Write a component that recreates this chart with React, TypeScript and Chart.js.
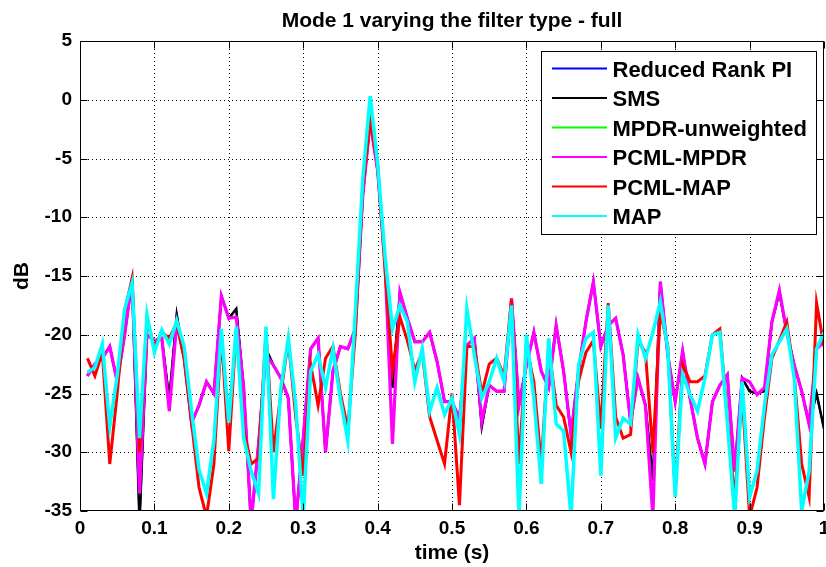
import React, { useEffect, useRef } from "react";
import { Chart, registerables } from "chart.js";

Chart.register(...registerables);

const TITLE = "Mode 1 varying the filter type - full";
const X_LABEL = "time (s)";
const Y_LABEL = "dB";

const X_TICKS = [0, 0.1, 0.2, 0.3, 0.4, 0.5, 0.6, 0.7, 0.8, 0.9, 1];
const X_TICK_LABELS = ["0", "0.1", "0.2", "0.3", "0.4", "0.5", "0.6", "0.7", "0.8", "0.9", "1"];
const Y_TICKS = [-35, -30, -25, -20, -15, -10, -5, 0, 5];
const Y_TICK_LABELS = ["-35", "-30", "-25", "-20", "-15", "-10", "-5", "0", "5"];

const TIME_S = [
  0.01, 0.02, 0.03, 0.04, 0.05, 0.06, 0.07, 0.08, 0.09, 0.1,
  0.11, 0.12, 0.13, 0.14, 0.15, 0.16, 0.17, 0.18, 0.19, 0.2,
  0.21, 0.22, 0.23, 0.24, 0.25, 0.26, 0.27, 0.28, 0.29, 0.3,
  0.31, 0.32, 0.33, 0.34, 0.35, 0.36, 0.37, 0.38, 0.39, 0.4,
  0.41, 0.42, 0.43, 0.44, 0.45, 0.46, 0.47, 0.48, 0.49, 0.5,
  0.51, 0.52, 0.53, 0.54, 0.55, 0.56, 0.57, 0.58, 0.59, 0.6,
  0.61, 0.62, 0.63, 0.64, 0.65, 0.66, 0.67, 0.68, 0.69, 0.7,
  0.71, 0.72, 0.73, 0.74, 0.75, 0.76, 0.77, 0.78, 0.79, 0.8,
  0.81, 0.82, 0.83, 0.84, 0.85, 0.86, 0.87, 0.88, 0.89, 0.9,
  0.91, 0.92, 0.93, 0.94, 0.95, 0.96, 0.97, 0.98, 0.99, 1.0,
];

const SMS_DB = [
  -23.5, -22.5, -22.0, -21.0, -24.0, -20.0, -15.3, -36.0, -20.0, -20.5,
  -20.3, -25.5, -18.3, -22.0, -27.5, -26.0, -24.0, -25.0, -16.7, -18.6,
  -17.8, -24.5, -36.0, -29.3, -21.2, -22.6, -23.7, -25.4, -36.0, -28.8,
  -21.2, -20.3, -30.0, -23.1, -21.0, -21.2, -19.5, -8.2, -1.8, -6.0,
  -13.9, -24.5, -16.4, -18.6, -20.6, -20.6, -19.8, -22.3, -25.7, -25.7,
  -27.1, -20.9, -20.3, -27.8, -24.3, -24.8, -24.8, -16.9, -26.0, -22.6,
  -19.8, -23.1, -24.5, -19.2, -23.1, -28.5, -23.1, -18.9, -15.5, -21.0,
  -19.2, -18.6, -21.7, -27.4, -23.7, -26.0, -32.4, -15.5, -21.7, -25.7,
  -21.4, -25.4, -28.8, -31.0, -25.7, -24.3, -23.4, -31.6, -23.7, -24.8,
  -25.0, -24.8, -18.9, -16.4, -19.8, -22.6, -24.8, -27.6, -25.0, -28.0,
];

const PCML_MPDR_DB = [
  -23.5, -22.5, -22.0, -21.0, -24.0, -20.0, -15.3, -33.5, -20.0, -20.5,
  -20.3, -26.5, -19.0, -22.0, -27.5, -26.0, -24.0, -25.0, -16.7, -18.6,
  -18.5, -24.5, -36.0, -29.3, -21.7, -22.6, -23.7, -25.4, -36.0, -28.8,
  -21.2, -20.3, -30.0, -23.1, -21.0, -21.2, -19.5, -8.2, -1.8, -6.0,
  -13.9, -29.3, -16.4, -18.6, -20.6, -20.6, -19.8, -22.3, -25.7, -25.7,
  -27.1, -20.9, -20.3, -27.4, -24.3, -24.8, -24.8, -16.9, -26.0, -22.6,
  -19.8, -23.1, -24.5, -19.2, -23.1, -28.5, -23.1, -18.9, -15.5, -21.0,
  -19.2, -18.6, -21.7, -27.4, -23.7, -26.0, -35.5, -15.5, -21.7, -25.7,
  -21.4, -25.4, -28.8, -31.0, -25.7, -24.3, -23.4, -31.6, -23.7, -24.0,
  -25.1, -24.5, -18.9, -16.2, -19.8, -22.6, -24.8, -27.6, -21.2, -20.6,
];

const REDUCED_RANK_PI_DB = SMS_DB;
const MPDR_UNWEIGHTED_DB = PCML_MPDR_DB;

const PCML_MAP_DB = [
  -22.0, -23.5, -21.5, -31.0, -25.0, -18.0, -15.2, -30.0, -18.8, -21.0,
  -19.8, -20.3, -19.0, -22.0, -27.5, -33.0, -35.5, -31.0, -20.0, -29.9,
  -19.5, -28.0, -31.0, -30.5, -19.8, -30.0, -25.0, -20.5, -27.0, -32.0,
  -22.5, -26.0, -22.0, -21.0, -25.0, -28.0, -20.0, -7.5, -1.8, -5.5,
  -14.5, -23.0, -18.5, -20.5, -23.0, -21.5, -27.0, -29.0, -31.0, -25.0,
  -34.5, -21.0, -21.0, -25.0, -22.5, -22.0, -23.5, -17.0, -31.0, -21.0,
  -24.0, -31.0, -21.0, -26.0, -27.0, -30.0, -24.0, -21.5, -20.5, -28.0,
  -17.3, -27.0, -28.8, -28.5, -20.5, -21.5, -30.0, -18.0, -21.0, -33.5,
  -22.5, -24.0, -24.0, -23.5, -20.0, -19.5, -27.0, -34.0, -25.0, -35.5,
  -33.0, -27.0, -22.0, -20.5, -18.9, -23.5, -31.0, -33.8, -17.3, -21.0,
];

const MAP_DB = [
  -23.2, -22.8, -20.8, -27.8, -23.5, -17.8, -15.6, -28.8, -18.3, -21.5,
  -19.6, -20.8, -18.8, -21.0, -26.5, -31.5, -33.5, -29.0, -19.5, -27.5,
  -19.3, -28.8, -31.6, -33.5, -19.3, -34.0, -24.5, -20.3, -26.0, -35.5,
  -23.1, -21.7, -24.5, -21.2, -25.5, -29.0, -18.1, -6.8, 0.3, -5.4,
  -13.3, -19.5, -17.5, -18.9, -24.0, -21.2, -26.5, -24.5, -26.8, -25.4,
  -28.5, -17.8, -21.7, -25.4, -24.0, -22.0, -24.0, -17.5, -35.5, -20.0,
  -25.4, -32.7, -20.3, -27.6, -28.2, -35.5, -22.6, -20.3, -19.8, -32.0,
  -17.5, -28.8, -27.1, -27.6, -20.0, -22.0, -19.8, -17.2, -21.2, -33.8,
  -23.4, -25.1, -26.5, -23.7, -20.0, -19.8, -27.4, -35.5, -24.0, -33.8,
  -31.6, -26.0, -21.7, -20.6, -19.5, -23.7, -35.0, -31.6, -21.2, -19.8,
];

const SERIES = [
  { name: "Reduced Rank PI", color: "#0000ff", width: 2, values: REDUCED_RANK_PI_DB, order: 5 },
  { name: "SMS", color: "#000000", width: 2.5, values: SMS_DB, order: 4 },
  { name: "MPDR-unweighted", color: "#00ff00", width: 2, values: MPDR_UNWEIGHTED_DB, order: 3 },
  { name: "PCML-MPDR", color: "#ff00ff", width: 3.2, values: PCML_MPDR_DB, order: 2 },
  { name: "PCML-MAP", color: "#ff0000", width: 3, values: PCML_MAP_DB, order: 1 },
  { name: "MAP", color: "#00ffff", width: 3.5, values: MAP_DB, order: 0 },
];

const FONT_FAMILY = '"Liberation Sans", Arial, Helvetica, sans-serif';

const matlabPlugin = {
  id: "matlabFrame",
  beforeDraw(chart: any) {
    const ctx = chart.ctx;
    ctx.save();
    ctx.fillStyle = "#ffffff";
    ctx.fillRect(0, 0, chart.width, chart.height);
    ctx.restore();
  },
  beforeDatasetsDraw(chart: any) {
    const { ctx, chartArea } = chart;
    const { left, right, top, bottom } = chartArea;
    const xs = chart.scales.x;
    const ys = chart.scales.y;
    ctx.save();
    ctx.strokeStyle = "#000000";
    ctx.lineWidth = 1;
    ctx.setLineDash([1, 3]);
    X_TICKS.forEach((v) => {
      const px = Math.round(xs.getPixelForValue(v)) + 0.5;
      if (px <= left + 1 || px >= right - 1) return;
      ctx.beginPath();
      ctx.moveTo(px, top);
      ctx.lineTo(px, bottom);
      ctx.stroke();
    });
    Y_TICKS.forEach((v) => {
      const py = Math.round(ys.getPixelForValue(v)) + 0.5;
      if (py <= top + 1 || py >= bottom - 1) return;
      ctx.beginPath();
      ctx.moveTo(left, py);
      ctx.lineTo(right, py);
      ctx.stroke();
    });
    ctx.restore();
  },
  afterDatasetsDraw(chart: any) {
    const { ctx, chartArea } = chart;
    const { left, right, top, bottom } = chartArea;
    const xs = chart.scales.x;
    const ys = chart.scales.y;
    const L = Math.round(left) + 0.5;
    const R = Math.round(right) - 0.5;
    const T = Math.round(top) + 0.5;
    const B = Math.round(bottom) - 0.5;
    const tick = 7;
    ctx.save();
    ctx.strokeStyle = "#000000";
    ctx.lineWidth = 1;
    ctx.setLineDash([]);
    ctx.strokeRect(L, T, R - L, B - T);
    ctx.beginPath();
    X_TICKS.forEach((v) => {
      const px = Math.round(xs.getPixelForValue(v)) + 0.5;
      ctx.moveTo(px, B);
      ctx.lineTo(px, B - tick);
      ctx.moveTo(px, T);
      ctx.lineTo(px, T + tick);
    });
    Y_TICKS.forEach((v) => {
      const py = Math.round(ys.getPixelForValue(v)) + 0.5;
      ctx.moveTo(L, py);
      ctx.lineTo(L + tick, py);
      ctx.moveTo(R, py);
      ctx.lineTo(R - tick, py);
    });
    ctx.stroke();
    ctx.restore();
  },
  afterDraw(chart: any) {
    const { ctx, chartArea } = chart;
    const { left, right, top } = chartArea;
    ctx.save();
    ctx.fillStyle = "#000000";
    ctx.font = `bold 21px ${FONT_FAMILY}`;
    ctx.textAlign = "center";
    ctx.textBaseline = "alphabetic";
    ctx.fillText(TITLE, (left + right) / 2, 27);

    ctx.font = `bold 22px ${FONT_FAMILY}`;
    let maxW = 0;
    SERIES.forEach((s) => {
      maxW = Math.max(maxW, ctx.measureText(s.name).width);
    });
    const boxRight = Math.round(right) - 7.5;
    const boxLeft = Math.round(boxRight - (71 + maxW + 10)) + 0.5;
    const boxTop = Math.round(top) + 10.5;
    const rowGap = 29.5;
    const boxBottom = boxTop + 17 + rowGap * (SERIES.length - 1) + 18.5;
    ctx.fillStyle = "#ffffff";
    ctx.fillRect(boxLeft, boxTop, boxRight - boxLeft, boxBottom - boxTop);
    ctx.strokeStyle = "#000000";
    ctx.lineWidth = 1;
    ctx.strokeRect(boxLeft, boxTop, boxRight - boxLeft, boxBottom - boxTop);
    SERIES.forEach((s, i) => {
      const cy = boxTop + 17 + rowGap * i;
      ctx.strokeStyle = s.color;
      ctx.lineWidth = 2;
      ctx.beginPath();
      ctx.moveTo(boxLeft + 10.5, cy);
      ctx.lineTo(boxLeft + 65.5, cy);
      ctx.stroke();
      ctx.fillStyle = "#000000";
      ctx.textAlign = "left";
      ctx.textBaseline = "alphabetic";
      ctx.fillText(s.name, boxLeft + 71, cy + 8);
    });
    ctx.restore();
  },
};

export default function App() {
  const canvasRef = useRef<HTMLCanvasElement | null>(null);

  useEffect(() => {
    const canvas = canvasRef.current;
    if (!canvas) return;
    const tickFont = { family: FONT_FAMILY, size: 19, weight: "bold" as const };
    const labelFont = { family: FONT_FAMILY, size: 21, weight: "bold" as const };
    const chart = new Chart(canvas, {
      type: "line",
      data: {
        datasets: SERIES.map((s) => ({
          label: s.name,
          data: TIME_S.map((t, i) => ({ x: t, y: s.values[i] })),
          borderColor: s.color,
          backgroundColor: s.color,
          borderWidth: s.width,
          pointRadius: 0,
          pointHoverRadius: 0,
          tension: 0,
          fill: false,
          clip: 0,
          order: s.order,
        })),
      },
      options: {
        responsive: false,
        animation: false,
        devicePixelRatio: 1,
        events: [],
        layout: { padding: { left: 0, right: 2, top: 41, bottom: 0 } },
        plugins: {
          legend: { display: false },
          title: { display: false },
          tooltip: { enabled: false },
        },
        scales: {
          x: {
            type: "linear",
            min: 0,
            max: 1,
            afterBuildTicks: (scale: any) => {
              scale.ticks = X_TICKS.map((v) => ({ value: v }));
            },
            afterFit: (scale: any) => {
              scale.height = 56;
              scale.paddingLeft = 0;
              scale.paddingRight = 0;
            },
            ticks: {
              autoSkip: false,
              maxRotation: 0,
              minRotation: 0,
              padding: 6,
              color: "#000000",
              font: tickFont,
              callback: (_v: any, i: number) => X_TICK_LABELS[i],
            },
            grid: { display: false, drawTicks: false },
            border: { display: false },
            title: {
              display: true,
              text: X_LABEL,
              color: "#000000",
              font: labelFont,
              padding: { top: 0, bottom: 1 },
            },
          },
          y: {
            type: "linear",
            min: -35,
            max: 5,
            afterBuildTicks: (scale: any) => {
              scale.ticks = Y_TICKS.map((v) => ({ value: v }));
            },
            afterFit: (scale: any) => {
              scale.width = 80;
              scale.paddingTop = 0;
              scale.paddingBottom = 0;
            },
            ticks: {
              autoSkip: false,
              padding: 8,
              color: "#000000",
              font: tickFont,
              callback: (_v: any, i: number) => Y_TICK_LABELS[i],
            },
            grid: { display: false, drawTicks: false },
            border: { display: false },
            title: {
              display: true,
              text: Y_LABEL,
              color: "#000000",
              font: labelFont,
              padding: { top: 10, bottom: 0 },
            },
          },
        },
      },
      plugins: [matlabPlugin],
    } as any);
    return () => {
      chart.destroy();
    };
  }, []);

  return (
    <div
      style={{
        position: "fixed",
        left: 0,
        top: 0,
        width: 826,
        height: 567,
        background: "#ffffff",
      }}
    >
      <canvas ref={canvasRef} width={826} height={567} style={{ width: 826, height: 567, display: "block" }} />
    </div>
  );
}
